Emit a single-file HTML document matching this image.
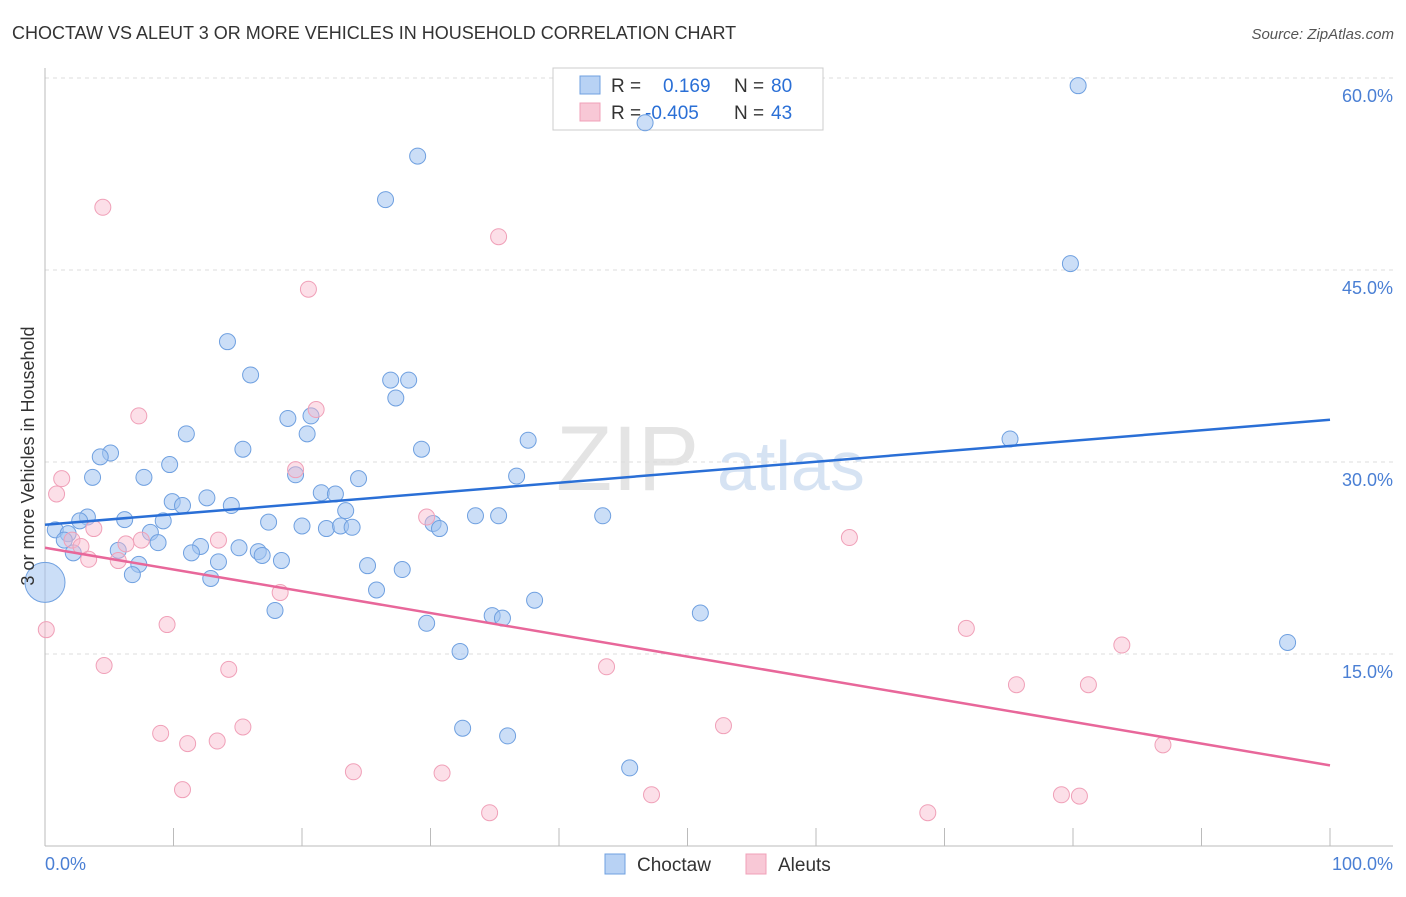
<!DOCTYPE html>
<html><head><meta charset="utf-8"><style>
body{margin:0;background:#fff;font-family:"Liberation Sans",sans-serif}
svg text{font-family:"Liberation Sans",sans-serif}
</style></head><body>
<svg width="1406" height="892" id="chart">
<text x="12" y="39" font-size="18" fill="#333">CHOCTAW VS ALEUT 3 OR MORE VEHICLES IN HOUSEHOLD CORRELATION CHART</text>
<text x="1394" y="39" font-size="15" fill="#555" text-anchor="end" font-style="italic">Source: ZipAtlas.com</text>
<text x="556" y="490" font-size="92" fill="#e4e4e4" font-family="Liberation Serif">ZIP</text>
<text x="717" y="490" font-size="70" fill="#d6e3f3">atlas</text>
<g id="grid"></g>
<g>
<rect x="553" y="68" width="270" height="62" fill="#fff" stroke="#ccc"/>
<rect x="580" y="76" width="20" height="18" fill="#b8d2f4" stroke="#6fa0e0"/>
<rect x="580" y="103" width="20" height="18" fill="#f8c8d6" stroke="#f0a0b8"/>
<text x="611" y="92" font-size="19" fill="#333">R =</text><text x="663" y="92" font-size="19" fill="#2a6fd6">0.169</text>
<text x="734" y="92" font-size="19" fill="#333">N =</text><text x="771" y="92" font-size="19" fill="#2a6fd6">80</text>
<text x="611" y="119" font-size="19" fill="#333">R =</text><text x="645" y="119" font-size="19" fill="#2a6fd6">-0.405</text>
<text x="734" y="119" font-size="19" fill="#333">N =</text><text x="771" y="119" font-size="19" fill="#2a6fd6">43</text>
</g>
<g id="pts"></g><g id="lines"></g>
<text transform="translate(34,456) rotate(-90)" font-size="18" fill="#333" text-anchor="middle">3 or more Vehicles in Household</text>
<text x="45" y="870" font-size="18" fill="#4a7fd4">0.0%</text>
<text x="1393" y="870" font-size="18" fill="#4a7fd4" text-anchor="end">100.0%</text>
<g>
<rect x="605" y="854" width="20" height="20" fill="#b8d2f4" stroke="#6fa0e0"/>
<text x="637" y="871" font-size="19" fill="#333">Choctaw</text>
<rect x="746" y="854" width="20" height="20" fill="#f8c8d6" stroke="#f0a0b8"/>
<text x="778" y="871" font-size="19" fill="#333">Aleuts</text>
</g>
</svg>
<script>
const yTicks=[15,30,45,60];
const yTickLabels=["15.0%","30.0%","45.0%","60.0%"];
const xTicks=[0,10,20,30,40,50,60,70,80,90,100];
const blueX=[80.4,46.7,29.0,26.5,79.8,14.2,16.0,26.9,28.3,27.3,18.9,20.7,11.0,20.4,37.6,75.1,15.4,5.1,4.3,29.3,9.7,19.5,24.4,36.7,3.7,7.7,21.5,22.6,12.6,9.9,10.7,14.5,23.4,3.3,6.2,33.5,35.3,43.4,2.7,9.2,17.4,20.0,21.9,23.0,23.9,30.2,30.7,0.8,1.8,8.2,1.5,8.8,12.1,15.1,16.6,5.7,2.2,11.4,16.9,13.5,18.4,7.3,25.1,27.8,6.8,12.9,25.8,38.1,17.9,34.8,35.6,51.0,29.7,96.7,32.3,32.5,36.0,45.5,0];
const blueY=[59.4,56.5,53.9,50.5,45.5,39.4,36.8,36.4,36.4,35.0,33.4,33.6,32.2,32.2,31.7,31.8,31.0,30.7,30.4,31.0,29.8,29.0,28.7,28.9,28.8,28.8,27.6,27.5,27.2,26.9,26.6,26.6,26.2,25.7,25.5,25.8,25.8,25.8,25.4,25.4,25.3,25.0,24.8,25.0,24.9,25.2,24.8,24.7,24.4,24.5,23.9,23.7,23.4,23.3,23.0,23.1,22.9,22.9,22.7,22.2,22.3,22.0,21.9,21.6,21.2,20.9,20.0,19.2,18.4,18.0,17.8,18.2,17.4,15.9,15.2,9.2,8.6,6.1,20.6];
const pinkX=[4.5,35.3,20.5,7.3,21.1,19.5,1.3,0.9,29.7,3.8,62.6,2.1,13.5,2.8,7.5,6.3,3.4,5.7,18.3,9.5,0.1,71.7,83.8,4.6,14.3,43.7,75.6,81.2,52.8,15.4,9.0,11.1,13.4,87.0,24.0,30.9,47.2,10.7,79.1,80.5,34.6,68.7];
const pinkY=[49.9,47.6,43.5,33.6,34.1,29.4,28.7,27.5,25.7,24.8,24.1,23.9,23.9,23.4,23.9,23.6,22.4,22.3,19.8,17.3,16.9,17.0,15.7,14.1,13.8,14.0,12.6,12.6,9.4,9.3,8.8,8.0,8.2,7.9,5.8,5.7,4.0,4.4,4.0,3.9,2.6,2.6];
const blueTrend=[25.1,33.3];
const pinkTrend=[23.3,6.3];
const X=v=>45+v*12.85, Y=v=>846-v*12.8;
const NS="http://www.w3.org/2000/svg";
function mk(t,a,p){const e=document.createElementNS(NS,t);for(const k in a)e.setAttribute(k,a[k]);p.appendChild(e);return e;}
const grid=document.getElementById('grid');
yTicks.forEach((t,i)=>{
 const l=mk('line',{x1:45,x2:1393,y1:Y(t),y2:Y(t),stroke:'#ddd','stroke-dasharray':'4,4'},grid);
 
 
 const tx=mk('text',{x:1393,y:Y(t)+24,'font-size':18,fill:'#4a7fd4','text-anchor':'end'},grid);
 tx.textContent=yTickLabels[i];
 
 
});
const ax=mk('line',{x1:45,x2:1393,y1:846,y2:846,stroke:'#bbb'},grid);


const ay=mk('line',{x1:45,x2:45,y1:68,y2:846,stroke:'#bbb'},grid);


xTicks.forEach(t=>{const l=mk('line',{x1:X(t),x2:X(t),y1:828,y2:846,stroke:'#bbb'},grid);
 
 });
const pts=document.getElementById('pts');
blueX.forEach((x,i)=>{const c=mk('circle',{cx:X(x),cy:Y(blueY[i]),r:i==blueX.length-1?20:8,fill:'rgba(160,194,240,0.55)',stroke:'#6fa0e0','stroke-width':1},pts);
 
 });
pinkX.forEach((x,i)=>{const c=mk('circle',{cx:X(x),cy:Y(pinkY[i]),r:8,fill:'rgba(248,184,204,0.45)',stroke:'#f0a0b8','stroke-width':1},pts);
 
 });
const lines=document.getElementById('lines');
const bl=mk('line',{x1:X(0),x2:X(100),y1:Y(blueTrend[0]),y2:Y(blueTrend[1]),stroke:'#2a6fd6','stroke-width':2.5},lines);


const pl=mk('line',{x1:X(0),x2:X(100),y1:Y(pinkTrend[0]),y2:Y(pinkTrend[1]),stroke:'#e8679a','stroke-width':2.5},lines);


</script>
</body></html>
